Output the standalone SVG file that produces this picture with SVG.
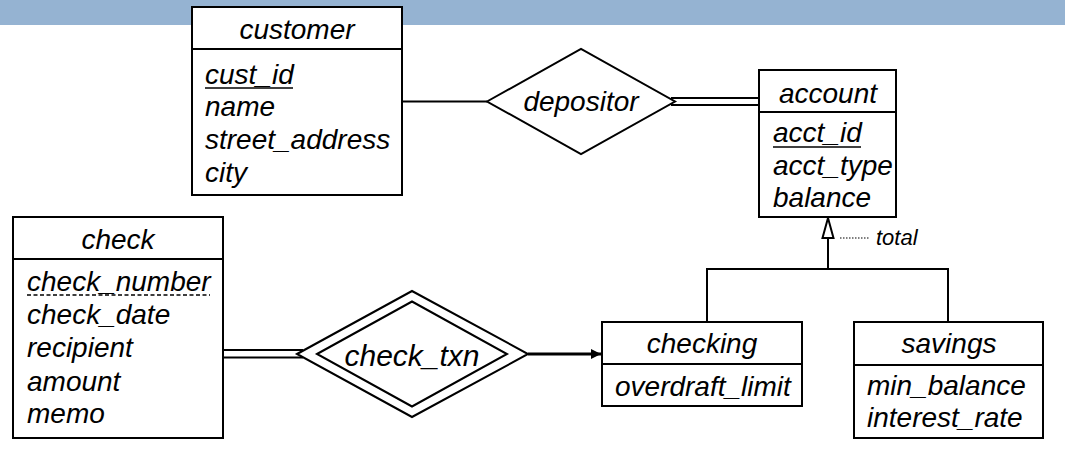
<svg xmlns="http://www.w3.org/2000/svg" width="1065" height="449" viewBox="0 0 1065 449">
<style>
.box{fill:#fff;stroke:#000;stroke-width:2}
.ln{fill:none;stroke:#000;stroke-width:2}
.t{font-family:"Liberation Sans",Arial,sans-serif;font-style:italic;font-size:28px;fill:#000}
.c{text-anchor:middle}
</style>
<defs>
<marker id="arr" viewBox="0 0 10 10" refX="10" refY="5" markerWidth="10" markerHeight="10" markerUnits="userSpaceOnUse" orient="auto">
<path d="M0,0 L10,5 L0,10 z" fill="#000"/>
</marker>
</defs>
<rect x="0" y="0" width="1065" height="25" fill="#95b3d2"/>
<g id="connectors">
<line class="ln" x1="402" y1="101.5" x2="487" y2="101.5"/>
<line class="ln" x1="671" y1="98" x2="759" y2="98"/>
<line class="ln" x1="671" y1="105" x2="759" y2="105"/>
<line class="ln" x1="223" y1="350" x2="303" y2="350"/>
<line class="ln" x1="223" y1="357.5" x2="303" y2="357.5"/>
<line x1="528" y1="354" x2="601" y2="354" stroke="#000" stroke-width="3" marker-end="url(#arr)"/>
<polyline class="ln" points="707,322 707,269 948,269 948,322"/>
<line class="ln" x1="828" y1="238" x2="828" y2="269"/>
<path d="M828,218 L822.5,238 L833.5,238 Z" fill="#fff" stroke="#000" stroke-width="2"/>
<line x1="840" y1="238" x2="870" y2="238" stroke="#000" stroke-width="1.2" stroke-dasharray="1.5,1.5"/>
<text class="t" x="876" y="245" style="font-size:22px">total</text>
</g>
<g id="customer">
<rect class="box" x="192" y="7" width="210" height="188"/>
<line class="ln" x1="192" y1="49" x2="402" y2="49"/>
<text class="t c" x="297" y="39">customer</text>
<text class="t" x="205" y="84">cust_id</text>
<line x1="205" y1="88" x2="293" y2="88" stroke="#000" stroke-width="1.5"/>
<text class="t" x="205" y="116">name</text>
<text class="t" x="205" y="149">street_address</text>
<text class="t" x="205" y="182">city</text>
</g>
<g id="depositor">
<polygon class="box" points="487,101.5 581,49 675,101.5 581,154"/>
<text class="t c" x="581" y="111">depositor</text>
</g>
<g id="account">
<rect class="box" x="759" y="70" width="137" height="147"/>
<line class="ln" x1="759" y1="112" x2="896" y2="112"/>
<text class="t c" x="828" y="103">account</text>
<text class="t" x="773" y="142">acct_id</text>
<line x1="773" y1="147" x2="861" y2="147" stroke="#000" stroke-width="1.5"/>
<text class="t" x="773" y="175">acct_type</text>
<text class="t" x="773" y="207">balance</text>
</g>
<g id="check">
<rect class="box" x="13" y="217" width="210" height="221"/>
<line class="ln" x1="13" y1="259" x2="223" y2="259"/>
<text class="t c" x="118" y="249">check</text>
<text class="t" x="27" y="291">check_number</text>
<line x1="27" y1="295" x2="210" y2="295" stroke="#000" stroke-width="1.5" stroke-dasharray="4,2.5"/>
<text class="t" x="27" y="324">check_date</text>
<text class="t" x="27" y="357">recipient</text>
<text class="t" x="27" y="391">amount</text>
<text class="t" x="27" y="423">memo</text>
</g>
<g id="check_txn">
<polygon class="box" points="297,354 412,291 528,354 412,417"/>
<polygon class="box" points="317,354 412,301.5 507,354 412,406.5"/>
<text class="t c" x="412" y="366" style="font-size:30px">check_txn</text>
</g>
<g id="checking">
<rect class="box" x="602" y="322" width="200" height="84"/>
<line class="ln" x1="602" y1="364" x2="802" y2="364"/>
<text class="t c" x="702" y="353">checking</text>
<text class="t" x="615" y="396">overdraft_limit</text>
</g>
<g id="savings">
<rect class="box" x="854" y="322" width="189" height="116"/>
<line class="ln" x1="854" y1="365" x2="1043" y2="365"/>
<text class="t c" x="949" y="353">savings</text>
<text class="t" x="867" y="395">min_balance</text>
<text class="t" x="867" y="427">interest_rate</text>
</g>
</svg>
